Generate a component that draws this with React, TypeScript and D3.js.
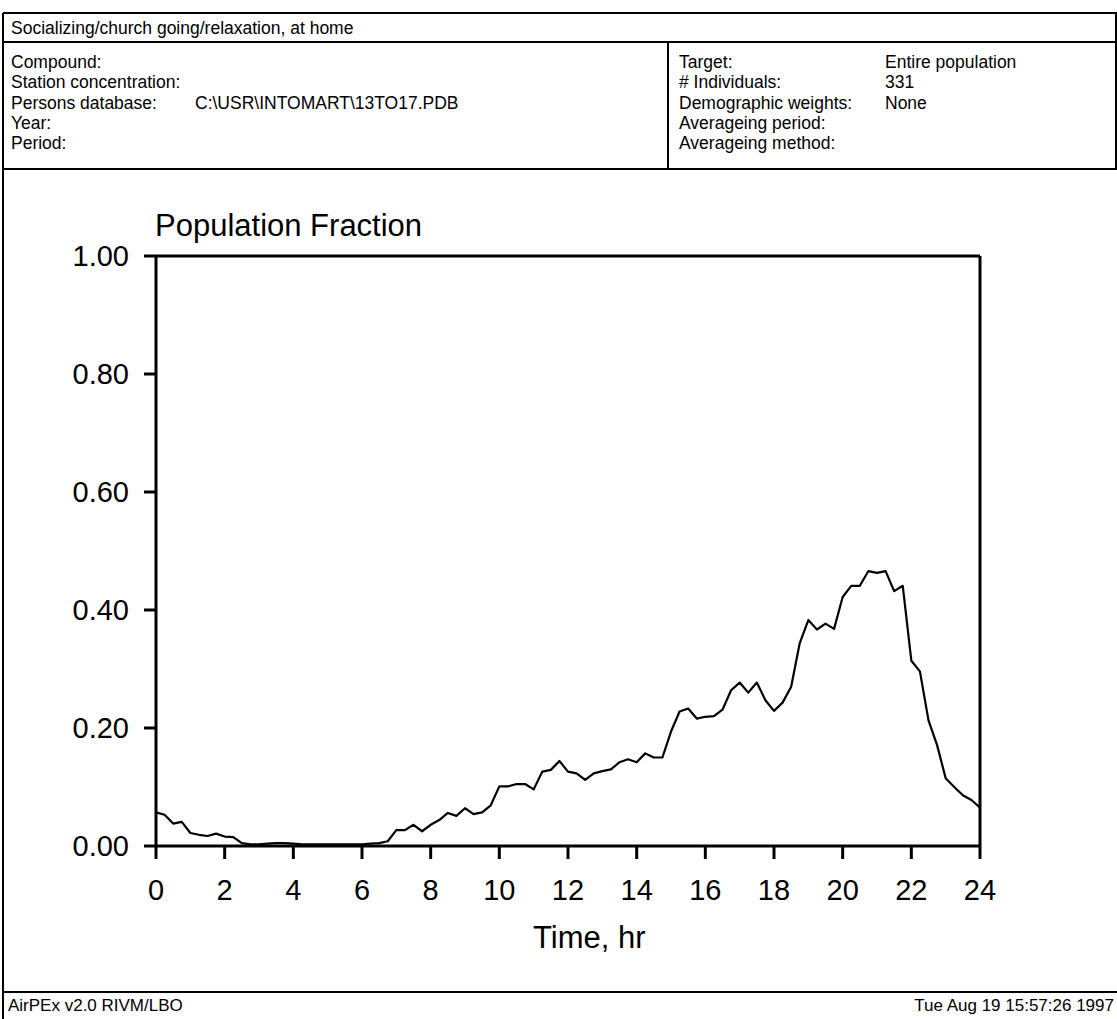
import React from "react";
import * as d3 from "d3";

const hours: number[] = d3.range(0, 24.001, 0.25);
const fraction: number[] = [
  0.057, 0.053, 0.038, 0.041, 0.022, 0.019, 0.017, 0.021, 0.016, 0.015,
  0.005, 0.003, 0.003, 0.004, 0.005, 0.005, 0.004, 0.003, 0.003, 0.003,
  0.003, 0.003, 0.003, 0.003, 0.003, 0.004, 0.005, 0.008, 0.027, 0.027,
  0.036, 0.025, 0.036, 0.044, 0.056, 0.051, 0.064, 0.054, 0.057, 0.069,
  0.101, 0.101, 0.105, 0.105, 0.096, 0.126, 0.129, 0.144, 0.126, 0.123,
  0.112, 0.123, 0.127, 0.130, 0.142, 0.147, 0.142, 0.157, 0.150, 0.150,
  0.194, 0.228, 0.233, 0.216, 0.219, 0.220, 0.231, 0.264, 0.277, 0.260,
  0.277, 0.247, 0.229, 0.243, 0.270, 0.344, 0.383, 0.367, 0.377, 0.368,
  0.422, 0.441, 0.441, 0.466, 0.463, 0.466, 0.432, 0.441, 0.314, 0.296,
  0.213, 0.171, 0.115, 0.100, 0.086, 0.078, 0.065,
];
const xTicks: number[] = [0, 2, 4, 6, 8, 10, 12, 14, 16, 18, 20, 22, 24];
const yTicks: number[] = [0, 0.2, 0.4, 0.6, 0.8, 1.0];

const titleText = "Socializing/church going/relaxation, at home";
const leftLabels = ["Compound:", "Station concentration:", "Persons database:", "Year:", "Period:"];
const leftValues = ["", "", "C:\\USR\\INTOMART\\13TO17.PDB", "", ""];
const rightLabels = ["Target:", "# Individuals:", "Demographic weights:", "Averageing period:", "Averageing method:"];
const rightValues = ["Entire population", "331", "None", "", ""];
const footerLeft = "AirPEx v2.0 RIVM/LBO";
const footerRight = "Tue Aug 19 15:57:26 1997";

const W = 1117;
const H = 1019;
const font = "'Liberation Sans', Arial, Helvetica, sans-serif";

export default function App() {
  const x = d3.scaleLinear().domain([0, 24]).range([156, 980]);
  const y = d3.scaleLinear().domain([0, 1]).range([846, 256]);
  const data = hours.map((h, i) => [h, fraction[i]] as [number, number]);
  const line = d3
    .line<[number, number]>()
    .x((d) => x(d[0]))
    .y((d) => y(d[1]))
    .curve(d3.curveLinear);

  const rowY = (i: number) => 68 + i * 20.3;

  return (
    <svg
      width={W}
      height={H}
      style={{ position: "absolute", left: 0, top: 0, background: "#fff" }}
      fontFamily={font}
    >
      <rect x={0} y={0} width={W} height={H} fill="#fff" />
      <g stroke="#000" strokeWidth={2} fill="none">
        <line x1={3} y1={13} x2={W} y2={13} />
        <line x1={3} y1={13} x2={3} y2={H} />
        <line x1={1116} y1={13} x2={1116} y2={169} />
        <line x1={3} y1={42} x2={W} y2={42} />
        <line x1={3} y1={169} x2={W} y2={169} />
        <line x1={668} y1={42} x2={668} y2={169} />
        <line x1={3} y1={992} x2={W} y2={992} />
      </g>
      <g fontSize={17.5} fill="#000">
        <text x={11} y={34}>{titleText}</text>
        {leftLabels.map((t, i) => (
          <text key={"l" + i} x={11} y={rowY(i)}>{t}</text>
        ))}
        {leftValues.map((t, i) => (
          <text key={"lv" + i} x={195} y={rowY(i)}>{t}</text>
        ))}
        {rightLabels.map((t, i) => (
          <text key={"r" + i} x={679} y={rowY(i)}>{t}</text>
        ))}
        {rightValues.map((t, i) => (
          <text key={"rv" + i} x={885} y={rowY(i)}>{t}</text>
        ))}
      </g>
      <g stroke="#000" strokeWidth={3} fill="none">
        <line x1={156} y1={256} x2={980} y2={256} />
        <line x1={980} y1={256} x2={980} y2={846} />
        <line x1={156} y1={256} x2={156} y2={846} />
        <line x1={156} y1={846} x2={980} y2={846} />
      </g>
      <g stroke="#000" strokeWidth={3}>
        {xTicks.map((t) => (
          <line key={"xt" + t} x1={x(t)} x2={x(t)} y1={846} y2={859} />
        ))}
        {yTicks.map((t) => (
          <line key={"yt" + t} x1={144} x2={156} y1={y(t)} y2={y(t)} />
        ))}
      </g>
      <g fontSize={29} fill="#000">
        {xTicks.map((t) => (
          <text key={"xl" + t} x={x(t)} y={900} textAnchor="middle">{t}</text>
        ))}
        {yTicks.map((t) => (
          <text key={"yl" + t} x={129} y={y(t)} dy="0.35em" textAnchor="end">{t.toFixed(2)}</text>
        ))}
      </g>
      <g fontSize={31} fill="#000">
        <text x={155} y={236}>Population Fraction</text>
        <text x={533} y={948}>Time, hr</text>
      </g>
      <path d={line(data) || ""} fill="none" stroke="#000" strokeWidth={2.2} strokeLinejoin="round" />
      <g fontSize={17} fill="#000">
        <text x={8} y={1011}>{footerLeft}</text>
        <text x={1114} y={1011} textAnchor="end">{footerRight}</text>
      </g>
    </svg>
  );
}
